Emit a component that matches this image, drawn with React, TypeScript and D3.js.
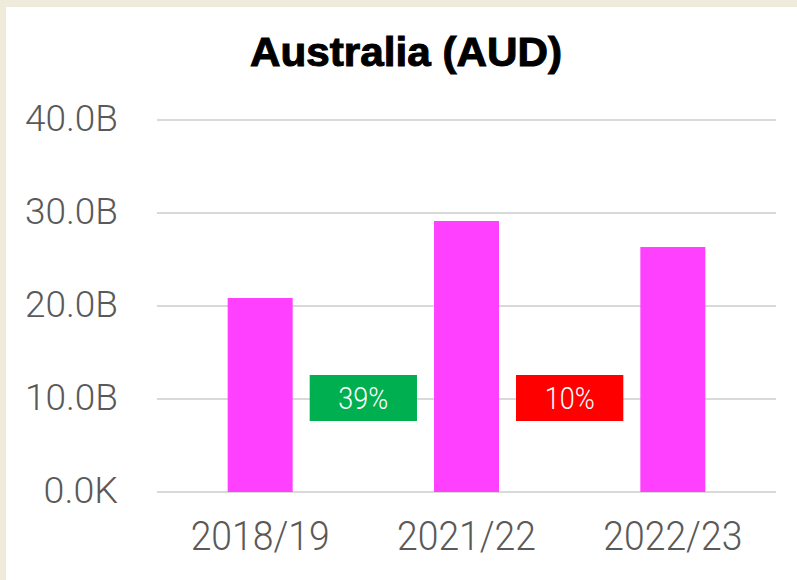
import * as d3 from "d3";

const years = ["2018/19", "2021/22", "2022/23"];
const values = [20.86, 29.14, 26.34]; // billions AUD
const yTicks = [0, 10, 20, 30, 40];
const yTickLabels = ["0.0K", "10.0B", "20.0B", "30.0B", "40.0B"];
const changeLabels = ["39%", "10%"];
const changeColors = ["#00B050", "#FF0000"];

const W = 797;
const H = 580;

export default function App() {
  const x = d3
    .scaleBand<string>()
    .domain(years)
    .range([157, 776])
    .paddingInner(0.685)
    .paddingOuter(0.3425);
  const y = d3.scaleLinear().domain([0, 40]).range([492, 120]);
  const step = x.step();

  return (
    <svg
      width={W}
      height={H}
      style={{ position: "fixed", left: 0, top: 0 }}
      xmlns="http://www.w3.org/2000/svg"
    >
      {/* outer frame */}
      <rect x={0} y={0} width={W} height={H} fill="#EEEBDA" />
      <rect x={6} y={7} width={W - 6} height={H - 7} fill="#FFFFFF" />

      <text
        x={406}
        y={66}
        textAnchor="middle"
        fontFamily="Liberation Sans, Arial, sans-serif"
        fontWeight="bold"
        fontSize={40}
        textLength={312}
        lengthAdjust="spacingAndGlyphs"
        stroke="#000"
        strokeWidth={1}
        fill="#000"
      >
        Australia (AUD)
      </text>

      {/* gridlines + y labels */}
      {yTicks.map((t, i) => (
        <g key={t}>
          <line
            x1={157}
            x2={776}
            y1={y(t)}
            y2={y(t)}
            stroke="#D9D9D9"
            strokeWidth={2}
          />
          <text
            x={118}
            y={y(t) + 11}
            textAnchor="end"
            fontFamily="Roboto, sans-serif"
            fontWeight={300}
            fontSize={36}
            fill="#595959"
            textLength={yTickLabels[i].length * 18.6}
            lengthAdjust="spacingAndGlyphs"
          >
            {yTickLabels[i]}
          </text>
        </g>
      ))}

      {/* bars */}
      {years.map((yr, i) => (
        <rect
          key={yr}
          x={x(yr)}
          y={y(values[i])}
          width={x.bandwidth()}
          height={y(0) - y(values[i])}
          fill="#FF40FF"
        />
      ))}

      {/* change boxes between bars */}
      {changeLabels.map((lbl, i) => {
        const cx = (x(years[i])! + x(years[i + 1])!) / 2 + x.bandwidth() / 2;
        const bw = step * 0.52;
        const cy = y(10) - 1;
        return (
          <g key={lbl}>
            <rect
              x={cx - bw / 2}
              y={cy - 23}
              width={bw}
              height={46}
              fill={changeColors[i]}
            />
            <text
              x={cx}
              y={cy + 11}
              textAnchor="middle"
              fontFamily="Roboto, sans-serif"
              fontWeight={300}
              fontSize={31}
              fill="#FFFFFF"
              textLength={50}
              lengthAdjust="spacingAndGlyphs"
            >
              {lbl}
            </text>
          </g>
        );
      })}

      {/* x labels */}
      {years.map((yr) => (
        <text
          key={yr}
          x={x(yr)! + x.bandwidth() / 2}
          y={550}
          textAnchor="middle"
          fontFamily="Roboto, sans-serif"
          fontWeight={300}
          fontSize={40}
          fill="#595959"
          textLength={139}
          lengthAdjust="spacingAndGlyphs"
        >
          {yr}
        </text>
      ))}
    </svg>
  );
}
